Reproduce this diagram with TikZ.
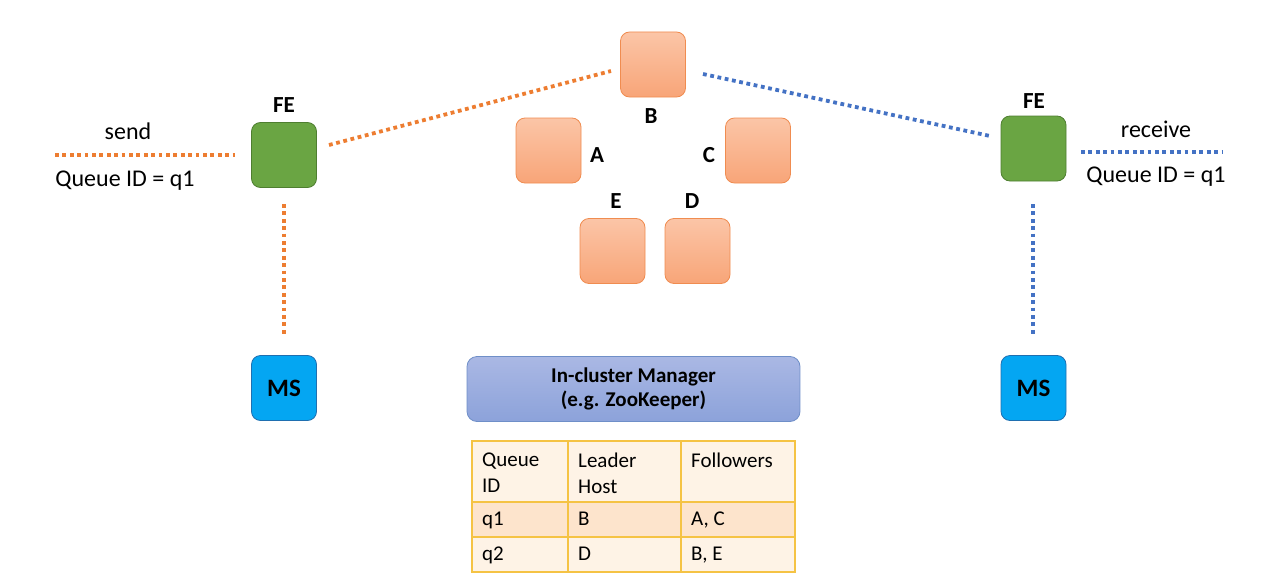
\documentclass[tikz,border=0pt]{standalone}
\usepackage{fontspec}
\setmainfont{Carlito}
\begin{document}
\begin{tikzpicture}[x=1pt,y=-1pt,
  box/.style={draw, line width=0.8pt, rounded corners=9pt, minimum width=65pt, minimum height=65pt, inner sep=0pt},
  febox/.style={box, draw=fedraw, fill=fefill},
  msbox/.style={box, draw=msdraw, fill=msfill, font=\fontsize{25}{28}\selectfont\bfseries},
  lbl/.style={font=\fontsize{23}{26}\selectfont\bfseries},
  txt/.style={font=\fontsize{24}{28}\selectfont},
  cell/.style={font=\fontsize{21}{26}\selectfont, anchor=north west, align=left, inner sep=0pt},
  dotline/.style={line width=3.8pt, dash pattern=on 3.8pt off 3.6pt},
]
\definecolor{hosttop}{HTML}{FBC5A7}
\definecolor{hostbot}{HTML}{F8A578}
\definecolor{hostdraw}{HTML}{F08C50}
\definecolor{fefill}{HTML}{6AA543}
\definecolor{fedraw}{HTML}{4E7E30}
\definecolor{msfill}{HTML}{04A6F2}
\definecolor{msdraw}{HTML}{1F6FB0}
\definecolor{orangeline}{HTML}{ED7D31}
\definecolor{blueline}{HTML}{4472C4}
\definecolor{mgtop}{HTML}{AAB8E4}
\definecolor{mgbot}{HTML}{8CA2DA}
\definecolor{mgdraw}{HTML}{6F8FC8}
\definecolor{tbdraw}{HTML}{F5C344}
\definecolor{tblight}{HTML}{FEF3E6}
\definecolor{tbdark}{HTML}{FDE4CC}
\tikzset{hostbox/.style={box, draw=hostdraw, top color=hosttop, bottom color=hostbot}}
\useasboundingbox (0,0) rectangle (1279,586);

% hosts
\node[hostbox] (B) at (653,64.5) {};
\node[hostbox] (A) at (548.5,150.5) {};
\node[hostbox] (C) at (758,150.5) {};
\node[hostbox] (E) at (612.5,251) {};
\node[hostbox] (D) at (697.5,251) {};
\node[lbl] (lB) at (651,116) {B};
\node[lbl] (lA) at (597,155) {A};
\node[lbl] (lC) at (709,155) {C};
\node[lbl] (lE) at (616,201) {E};
\node[lbl] (lD) at (692,201) {D};

% front ends
\node[febox] (FEL) at (284,155) {};
\node[febox] (FER) at (1033.5,148.5) {};
\node[lbl] (lFEL) at (284,105) {FE};
\node[lbl] (lFER) at (1034,101) {FE};

% message stores
\node[msbox] (MSL) at (284,388) {MS};
\node[msbox] (MSR) at (1033.5,388) {MS};

% manager
\node[draw=mgdraw, line width=0.8pt, rounded corners=10pt, top color=mgtop, bottom color=mgbot,
      minimum width=333pt, minimum height=65pt, align=center,
      font=\fontsize{21}{24}\selectfont\bfseries] (M) at (633.5,389) {In-cluster Manager\\(e.g. ZooKeeper)};

% table
\fill[tblight] (472,441) rectangle (795,502);
\fill[tbdark] (472,502) rectangle (795,537);
\fill[tblight] (472,537) rectangle (795,572);
\draw[tbdraw, line width=1.2pt] (472,441) rectangle (795,572)
  (472,502) -- (795,502) (472,537) -- (795,537)
  (568,441) -- (568,572) (681,441) -- (681,572);
\node[cell] (t11) at (482,453) {Queue\\ID};
\node[cell] (t12) at (578,453) {Leader\\Host};
\node[cell] (t13) at (691,453) {Followers};
\node[cell] (t21) at (482,512) {q1};
\node[cell] (t22) at (578,512) {B};
\node[cell] (t23) at (691,512) {A, C};
\node[cell] (t31) at (482,547) {q2};
\node[cell] (t32) at (578,547) {D};
\node[cell] (t33) at (691,547) {B, E};

% connector end points
\coordinate (sendA) at (55,155);
\coordinate (sendB) at (235,155);
\coordinate (fb1) at (329,145);
\coordinate (fb2) at (611,71);
\coordinate (fv1) at (284,204);
\coordinate (fv2) at (284,337);
\coordinate (br1) at (703,74);
\coordinate (br2) at (990,136);
\coordinate (rc1) at (1081,152);
\coordinate (rc2) at (1222,152);
\coordinate (rv1) at (1033,204);
\coordinate (rv2) at (1033,335);

\draw[dotline, orangeline] (sendA) -- (sendB);
\draw[dotline, orangeline] (fb1) -- (fb2);
\draw[dotline, orangeline] (fv1) -- (fv2);
\draw[dotline, blueline] (br1) -- (br2);
\draw[dotline, blueline] (rc1) -- (rc2);
\draw[dotline, blueline] (rv1) -- (rv2);

\node[txt] (send) at (128,131) {send};
\node[txt] (qL) at (125,181) {Queue ID = q1};
\node[txt] (recv) at (1156,129) {receive};
\node[txt] (qR) at (1156,177) {Queue ID = q1};
\end{tikzpicture}
\end{document}
